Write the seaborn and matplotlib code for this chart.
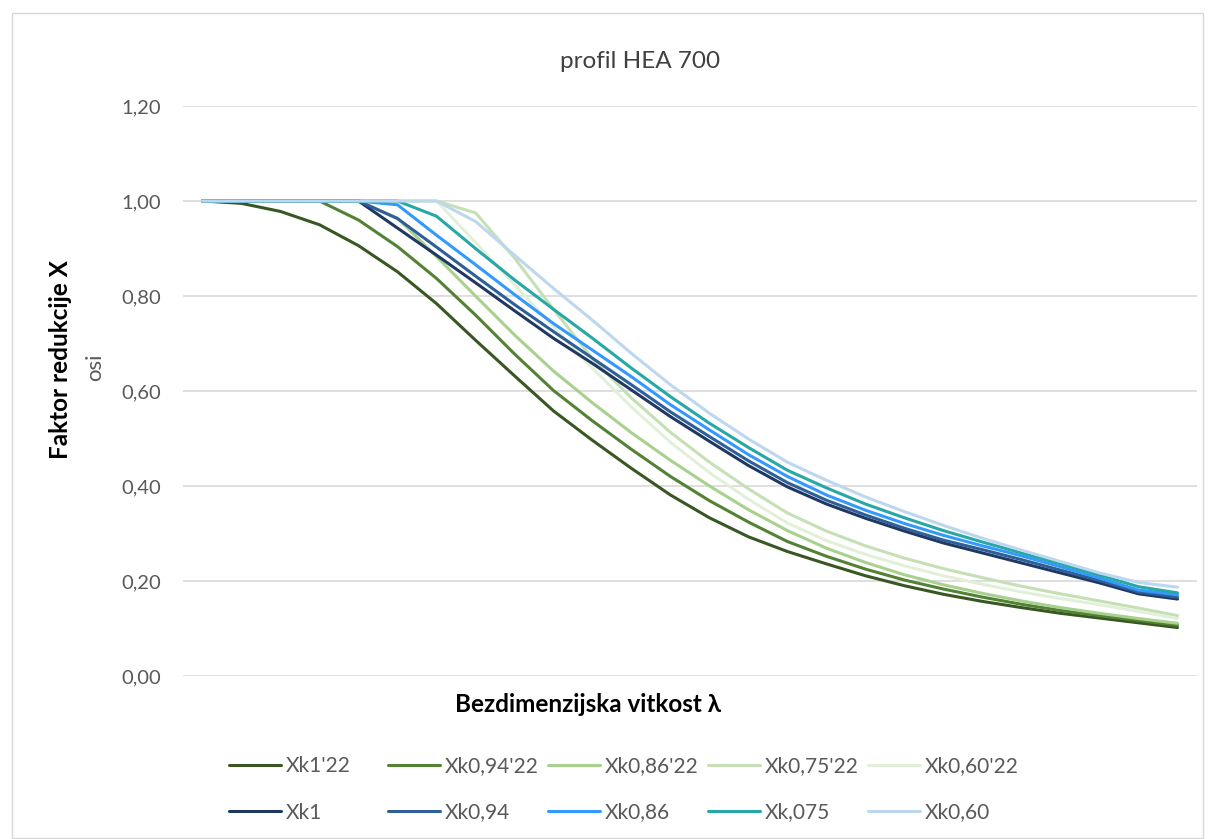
import numpy as np
import pandas as pd
import matplotlib
matplotlib.use('Agg')
import matplotlib.pyplot as plt
from matplotlib.patches import Rectangle
import seaborn as sns

# ── DATA ──────────────────────────────────────
point_no = list(range(1, 27))

series_names = ["Xk1'22", "Xk0,94'22", "Xk0,86'22", "Xk0,75'22", "Xk0,60'22",
                "Xk1", "Xk0,94", "Xk0,86", "Xk,075", "Xk0,60"]

xk1_22 = [1.000, 0.995, 0.978, 0.950, 0.906, 0.851, 0.784, 0.707, 0.632, 0.558,
          0.496, 0.437, 0.381, 0.333, 0.293, 0.262, 0.236, 0.211, 0.190, 0.172,
          0.157, 0.144, 0.132, 0.122, 0.112, 0.102]
xk094_22 = [1.000, 1.000, 1.000, 1.000, 0.960, 0.904, 0.837, 0.760, 0.678, 0.601,
            0.537, 0.477, 0.420, 0.369, 0.324, 0.283, 0.252, 0.225, 0.202, 0.183,
            0.166, 0.151, 0.138, 0.127, 0.117, 0.107]
xk086_22 = [1.000, 1.000, 1.000, 1.000, 1.000, 0.964, 0.883, 0.800, 0.718, 0.642,
            0.575, 0.512, 0.454, 0.400, 0.350, 0.306, 0.269, 0.239, 0.213, 0.192,
            0.174, 0.158, 0.144, 0.132, 0.121, 0.111]
xk075_22 = [1.000, 1.000, 1.000, 1.000, 1.000, 1.000, 1.000, 0.975, 0.880, 0.772,
            0.668, 0.585, 0.513, 0.450, 0.394, 0.343, 0.305, 0.274, 0.248, 0.226,
            0.207, 0.189, 0.173, 0.158, 0.143, 0.127]
xk060_22 = [1.000, 1.000, 1.000, 1.000, 1.000, 1.000, 1.000, 0.913, 0.824, 0.735,
            0.648, 0.566, 0.492, 0.428, 0.372, 0.322, 0.285, 0.256, 0.232, 0.211,
            0.193, 0.177, 0.163, 0.150, 0.136, 0.121]

xk1 = [1.000, 1.000, 1.000, 1.000, 1.000, 0.943, 0.886, 0.828, 0.769, 0.711,
       0.658, 0.602, 0.546, 0.494, 0.443, 0.398, 0.362, 0.332, 0.305, 0.280,
       0.259, 0.238, 0.217, 0.196, 0.173, 0.162]
xk094 = [1.000, 1.000, 1.000, 1.000, 1.000, 0.963, 0.903, 0.842, 0.782, 0.725,
         0.669, 0.613, 0.556, 0.504, 0.453, 0.407, 0.370, 0.339, 0.311, 0.286,
         0.266, 0.245, 0.223, 0.201, 0.177, 0.166]
xk086 = [1.000, 1.000, 1.000, 1.000, 1.000, 0.992, 0.928, 0.866, 0.803, 0.742,
         0.686, 0.630, 0.571, 0.518, 0.466, 0.420, 0.381, 0.349, 0.321, 0.296,
         0.274, 0.253, 0.230, 0.206, 0.181, 0.171]
xk075 = [1.000, 1.000, 1.000, 1.000, 1.000, 1.000, 0.968, 0.900, 0.834, 0.772,
         0.711, 0.648, 0.588, 0.532, 0.481, 0.433, 0.396, 0.362, 0.333, 0.306,
         0.282, 0.259, 0.236, 0.212, 0.188, 0.175]
xk060 = [1.000, 1.000, 1.000, 1.000, 1.000, 1.000, 1.000, 0.957, 0.886, 0.816,
         0.749, 0.679, 0.613, 0.553, 0.499, 0.450, 0.412, 0.377, 0.346, 0.317,
         0.290, 0.265, 0.241, 0.217, 0.197, 0.187]

y_ticks = [0.0, 0.2, 0.4, 0.6, 0.8, 1.0, 1.2]

colors = ['#385723', '#548235', '#A9D18E', '#C5E0B4', '#E2F0D9',
          '#203864', '#2F5F98', '#3399FF', '#27A7A7', '#BDD7EE']

# long-form table for seaborn
all_vals = [xk1_22, xk094_22, xk086_22, xk075_22, xk060_22,
            xk1, xk094, xk086, xk075, xk060]
df = pd.concat([pd.DataFrame({'tocka': point_no, 'chi': v, 'serija': n})
                for n, v in zip(series_names, all_vals)], ignore_index=True)

# ── STYLE ─────────────────────────────────────
sns.set_theme(style='white')
plt.rcParams['font.family'] = ['Lato', 'DejaVu Sans']
txt_grey = '#595959'

W, H = 1215, 839
fig = plt.figure(figsize=(W / 100, H / 100), dpi=100)
ax = fig.add_axes([183 / W, 1 - 676 / H, (1197 - 183) / W, (676 - 106) / H])

sns.lineplot(data=df, x='tocka', y='chi', hue='serija', hue_order=series_names,
             palette=dict(zip(series_names, colors)), linewidth=2.2, ax=ax)

handles, labels = ax.get_legend_handles_labels()
ax.get_legend().remove()

ax.set_xlim(0.5, 26.5)
ax.set_ylim(0, 1.2)
ax.set_xticks([])
ax.set_yticks(y_ticks)
ax.set_yticklabels([f'{t:.2f}'.replace('.', ',') for t in y_ticks],
                   fontsize=14.5, color=txt_grey)
ax.tick_params(axis='y', length=0, pad=16)
ax.set_xlabel('')
ax.set_ylabel('')
ax.yaxis.grid(True, color='#D9D9D9', linewidth=1.2)
ax.set_axisbelow(True)
for s in ax.spines.values():
    s.set_visible(False)

# ── TEXTS ─────────────────────────────────────
fig.text(640 / W, 1 - 62 / H, 'profil HEA 700', ha='center', va='center',
         fontsize=17.5, color='#404040')
fig.text(588 / W, 1 - 705 / H, 'Bezdimenzijska vitkost λ', ha='center', va='center',
         fontsize=17.5, fontweight='bold', color='black')
fig.text(60 / W, 1 - 360 / H, 'Faktor redukcije X', rotation=90, ha='center',
         va='center', fontsize=17.5, fontweight='bold', color='black')
fig.text(95 / W, 1 - 367 / H, 'osi', rotation=90, ha='center', va='center',
         fontsize=16, color=txt_grey)

# ── LEGEND: one small legend per column ───────
col_x = [229, 388, 548, 708, 868]
h_map = dict(zip(labels, handles))
for i, cx in enumerate(col_x):
    pair = [series_names[i], series_names[i + 5]]
    fig.legend([h_map[p] for p in pair], pair, loc='center left',
               bbox_to_anchor=(cx / W, 1 - 789.5 / H), frameon=False,
               fontsize=15, labelcolor=txt_grey, borderpad=0, borderaxespad=0,
               handlelength=2.5, handletextpad=0.25, labelspacing=1.25)

# chart border
fig.patches.append(Rectangle((12 / W, 1 / H), (1203 - 12) / W, (838 - 13) / H,
                             transform=fig.transFigure, fill=False,
                             edgecolor='#D9D9D9', linewidth=1))

plt.savefig('out.png', dpi=100)
